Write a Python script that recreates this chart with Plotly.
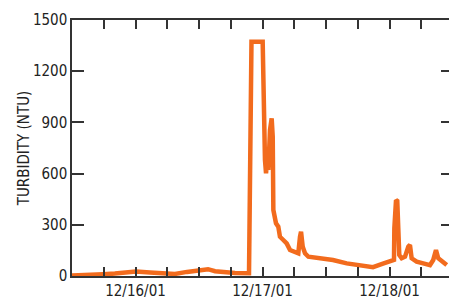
import plotly.graph_objects as go

times = [
    "2001-12-15 12:00", "2001-12-15 17:18", "2001-12-15 17:51", "2001-12-15 20:06",
    "2001-12-15 22:23", "2001-12-16 00:06", "2001-12-16 02:44", "2001-12-16 05:34",
    "2001-12-16 07:27", "2001-12-16 09:44", "2001-12-16 12:11", "2001-12-16 13:42",
    "2001-12-16 15:02", "2001-12-16 16:55", "2001-12-16 18:48", "2001-12-16 21:27",
    "2001-12-16 21:33", "2001-12-16 21:47", "2001-12-16 21:55", "2001-12-17 00:02",
    "2001-12-17 00:06", "2001-12-17 00:11", "2001-12-17 00:17", "2001-12-17 00:28",
    "2001-12-17 00:40", "2001-12-17 00:55", "2001-12-17 01:06", "2001-12-17 01:25",
    "2001-12-17 01:44", "2001-12-17 01:56", "2001-12-17 02:03", "2001-12-17 02:14",
    "2001-12-17 02:33", "2001-12-17 02:59", "2001-12-17 03:18", "2001-12-17 03:56",
    "2001-12-17 04:34", "2001-12-17 05:12", "2001-12-17 06:08", "2001-12-17 06:46",
    "2001-12-17 07:05", "2001-12-17 07:17", "2001-12-17 07:36", "2001-12-17 08:02",
    "2001-12-17 08:40", "2001-12-17 10:52", "2001-12-17 13:19", "2001-12-17 15:55",
    "2001-12-17 18:59", "2001-12-17 20:53", "2001-12-17 22:46", "2001-12-18 00:25",
    "2001-12-18 00:51", "2001-12-18 00:55", "2001-12-18 01:14", "2001-12-18 01:28",
    "2001-12-18 01:40", "2001-12-18 01:51", "2001-12-18 02:18", "2001-12-18 02:56",
    "2001-12-18 03:33", "2001-12-18 03:52", "2001-12-18 04:11", "2001-12-18 05:08",
    "2001-12-18 06:23", "2001-12-18 07:39", "2001-12-18 08:16", "2001-12-18 08:47",
    "2001-12-18 09:13", "2001-12-18 10:10", "2001-12-18 10:49",
]
turbidity = [
    3, 4, 10, 14,
    22, 26, 20, 15,
    12, 24, 32, 40,
    28, 22, 17, 16,
    270, 962, 1372, 1372,
    1187, 1150, 837, 680,
    601, 699, 621, 855,
    924, 816, 387, 347,
    309, 289, 230, 211,
    191, 152, 142, 133,
    230, 260, 172, 133,
    113, 104, 94, 74,
    58, 52, 72, 90,
    94, 281, 445, 440,
    270, 123, 104, 113,
    172, 182, 104, 84,
    74, 64, 94, 152,
    104, 84, 64,
]

tick_vals = [
    "2001-12-15 18:00", "2001-12-16 00:00", "2001-12-16 06:00", "2001-12-16 12:00",
    "2001-12-16 18:00", "2001-12-17 00:00", "2001-12-17 06:00", "2001-12-17 12:00",
    "2001-12-17 18:00", "2001-12-18 00:00", "2001-12-18 06:00",
]
tick_text = ["", "12/16/01", "", "", "", "12/17/01", "", "", "", "12/18/01", ""]
y_ticks = [0, 300, 600, 900, 1200, 1500]

fig = go.Figure()
fig.add_trace(go.Scatter(
    x=times, y=turbidity, mode="lines",
    line=dict(color="#F26B1D", width=4.5),
    hoverinfo="skip",
))

font_family = "DejaVu Sans Condensed, Liberation Sans Narrow, Arial Narrow, sans-serif"
# page body has an 8px default margin, so the figure is sized/offset to compensate
fig.update_layout(
    width=449, height=297,
    margin=dict(l=64, r=4, t=12, b=29),
    paper_bgcolor="white", plot_bgcolor="white",
    showlegend=False,
    font=dict(family=font_family, size=15, color="#222222"),
    xaxis=dict(
        type="date",
        range=["2001-12-15 12:00", "2001-12-18 12:00"],
        tickmode="array", tickvals=tick_vals, ticktext=tick_text,
        ticks="inside", ticklen=9, tickwidth=1.5, tickcolor="#333333",
        showline=True, linecolor="#333333", linewidth=1.5, mirror="ticks",
        showgrid=False, zeroline=False, automargin=False,
        tickfont=dict(size=15),
    ),
    yaxis=dict(
        range=[0, 1500],
        tickmode="array", tickvals=y_ticks,
        ticks="inside", ticklen=12, tickwidth=1.5, tickcolor="#333333",
        showline=True, linecolor="#333333", linewidth=1.5, mirror="ticks",
        showgrid=False, zeroline=False, automargin=False,
        title=dict(text="TURBIDITY (NTU)", font=dict(size=15), standoff=0),
        tickfont=dict(size=15),
    ),
)

fig.write_html("out.html")
